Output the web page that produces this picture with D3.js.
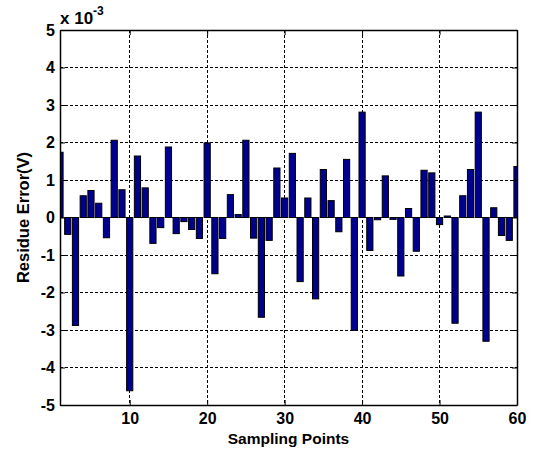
<!DOCTYPE html>
<html>
<head>
<meta charset="utf-8">
<script src="https://cdn.jsdelivr.net/npm/d3@7"></script>
<style>
  html, body { margin: 0; padding: 0; background: #fff; }
  svg text { font-family: Arial, "Liberation Sans", sans-serif; font-weight: bold; fill: #000; }
</style>
</head>
<body>
<svg id="chart" width="535" height="454"></svg>
<script>
// Sampling point indices
const points = d3.range(1, 61);
// Residue error at each sampling point, in units of 1e-3 V
const residue = [
  1.74, -0.45, -2.88, 0.58, 0.72, 0.38, -0.54, 2.06, 0.74, -4.62,
  1.64, 0.79, -0.69, -0.27, 1.88, -0.43, -0.11, -0.32, -0.56, 1.99,
  -1.50, -0.56, 0.61, 0.08, 2.06, -0.55, -2.66, -0.61, 1.32, 0.52,
  1.71, -1.71, 0.52, -2.17, 1.28, 0.45, -0.38, 1.55, -3.01, 2.81,
  -0.88, -0.06, 1.11, -0.05, -1.56, 0.24, -0.90, 1.26, 1.19, -0.19,
  0.04, -2.82, 0.58, 1.28, 2.81, -3.30, 0.26, -0.48, -0.61, 1.36
];
const xTicks = [10, 20, 30, 40, 50, 60];
const yTicks = [-5, -4, -3, -2, -1, 0, 1, 2, 3, 4, 5];

const svg = d3.select("#chart");
const plotL = 60, plotR = 517, plotT = 30, plotB = 405;

const x = d3.scaleLinear().domain([1, 60]).range([plotL, plotR]);
const y = d3.scaleLinear().domain([-5, 5]).range([plotB, plotT]);
const barW = (x(2) - x(1)) * 0.8;

const defs = svg.append("defs");
defs.append("clipPath").attr("id", "plotClip")
  .append("rect").attr("x", plotL).attr("y", plotT)
  .attr("width", plotR - plotL).attr("height", plotB - plotT);

// dotted grid
const grid = svg.append("g");
grid.selectAll("line.gx").data(xTicks.filter(d => d < 60)).join("line")
  .attr("x1", d => x(d)).attr("x2", d => x(d))
  .attr("y1", plotT).attr("y2", plotB)
  .attr("stroke", "#000").attr("stroke-width", 1)
  .attr("stroke-dasharray", "3,2").attr("shape-rendering", "crispEdges");
grid.selectAll("line.gy").data(yTicks.filter(d => d > -5 && d < 5)).join("line")
  .attr("x1", plotL).attr("x2", plotR)
  .attr("y1", d => y(d)).attr("y2", d => y(d))
  .attr("stroke", "#000").attr("stroke-width", 1)
  .attr("stroke-dasharray", "3,2").attr("shape-rendering", "crispEdges");

// bars
svg.append("g").attr("clip-path", "url(#plotClip)")
  .selectAll("rect").data(points).join("rect")
  .attr("x", d => x(d) - barW / 2)
  .attr("width", barW)
  .attr("y", (d, i) => y(Math.max(0, residue[i])))
  .attr("height", (d, i) => Math.abs(y(residue[i]) - y(0)))
  .attr("fill", "#00008f")
  .attr("stroke", "#000")
  .attr("stroke-width", 1);

// axes with inward ticks; labels use a plain hyphen for negatives
const fmt = d => String(d);
const axB = svg.append("g").attr("transform", `translate(0,${plotB})`)
  .call(d3.axisBottom(x).tickValues(xTicks).tickFormat(fmt).tickSizeInner(-5).tickSizeOuter(0).tickPadding(8));
const axL = svg.append("g").attr("transform", `translate(${plotL},0)`)
  .call(d3.axisLeft(y).tickValues(yTicks).tickFormat(fmt).tickSizeInner(-5).tickSizeOuter(0).tickPadding(5));
const axT = svg.append("g").attr("transform", `translate(0,${plotT})`)
  .call(d3.axisTop(x).tickValues(xTicks).tickSizeInner(-5).tickSizeOuter(0).tickFormat(""));
const axR = svg.append("g").attr("transform", `translate(${plotR},0)`)
  .call(d3.axisRight(y).tickValues(yTicks).tickSizeInner(-5).tickSizeOuter(0).tickFormat(""));

[axB, axL, axT, axR].forEach(a => {
  a.select(".domain").attr("stroke", "#000").attr("stroke-width", 1.5);
  a.selectAll(".tick line").attr("stroke", "#000");
  a.selectAll("text").attr("font-size", 16).attr("font-weight", "bold")
    .attr("font-family", "Arial, 'Liberation Sans', sans-serif").attr("fill", "#000");
});

// exponent label
const expo = svg.append("text").attr("x", plotL).attr("y", 24).attr("font-size", 17);
expo.append("tspan").text("x 10");
expo.append("tspan").attr("dy", -9).attr("font-size", 12).text("-3");

// axis titles
svg.append("text")
  .attr("x", (plotL + plotR) / 2).attr("y", 444)
  .attr("text-anchor", "middle").attr("font-size", 15.5)
  .text("Sampling Points");
svg.append("text")
  .attr("transform", `translate(28.5,${(plotT + plotB) / 2}) rotate(-90)`)
  .attr("text-anchor", "middle").attr("font-size", 16.5)
  .text("Residue Error(V)");
</script>
</body>
</html>
